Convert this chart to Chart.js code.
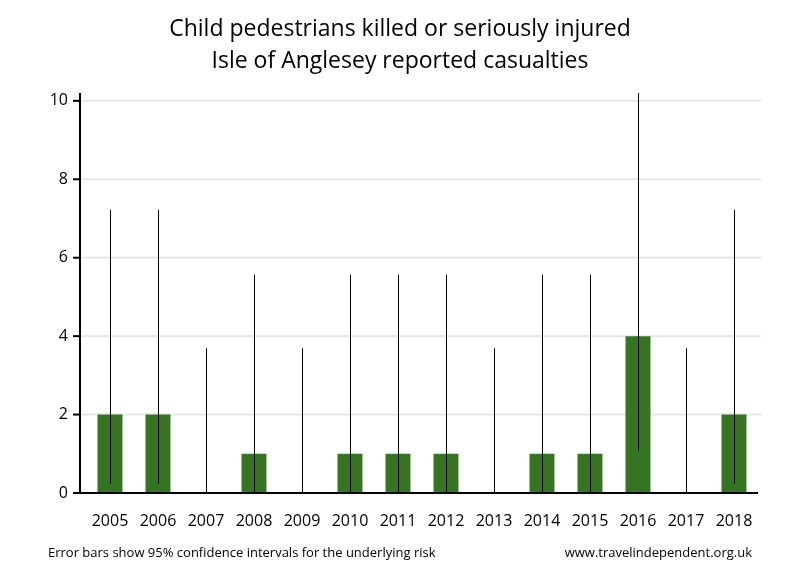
<!DOCTYPE html>
<html>
<head>
<meta charset="utf-8">
<script src="https://cdn.jsdelivr.net/npm/chart.js@4"></script>
<style>
  body { margin: 0; background: #fff; }
</style>
</head>
<body>
<canvas id="myChart" width="800" height="580"></canvas>
<script>
// casualties per year, with 95% confidence limits for the underlying risk
const years = ['2005', '2006', '2007', '2008', '2009', '2010', '2011', '2012', '2013', '2014', '2015', '2016', '2017', '2018'];
const casualties = [2, 2, 0, 1, 0, 1, 1, 1, 0, 1, 1, 4, 0, 2];
const lowerCI = [0.24, 0.24, 0, 0.03, 0, 0.03, 0.03, 0.03, 0, 0.03, 0.03, 1.09, 0, 0.24];
const upperCI = [7.22, 7.22, 3.69, 5.57, 3.69, 5.57, 5.57, 5.57, 3.69, 5.57, 5.57, 10.24, 3.69, 7.22];
const yTicks = [0, 2, 4, 6, 8, 10];

const titleLines = ['Child pedestrians killed or seriously injured', 'Isle of Anglesey reported casualties'];
const footLeft = 'Error bars show 95% confidence intervals for the underlying risk';
const footRight = 'www.travelindependent.org.uk';

// the value axis sits a little left of the first bar, so grid and axes are drawn here
const axes = {
    id: 'axes',
    beforeDatasetsDraw(chart) {
        const ctx = chart.ctx;
        const y = chart.scales.y;
        const area = chart.chartArea;
        const axisX = area.left - 6;
        ctx.save();
        ctx.strokeStyle = '#e6e6e6';
        ctx.lineWidth = 2;
        yTicks.forEach(v => {
            if (v === 0) return;
            const py = y.getPixelForValue(v);
            ctx.beginPath();
            ctx.moveTo(axisX, py);
            ctx.lineTo(area.right + 3, py);
            ctx.stroke();
        });
        ctx.restore();
    },
    afterDatasetsDraw(chart) {
        const ctx = chart.ctx;
        const x = chart.scales.x;
        const y = chart.scales.y;
        const area = chart.chartArea;
        const axisX = area.left - 6;
        ctx.save();
        // error bars
        ctx.strokeStyle = '#000';
        ctx.lineWidth = 1;
        for (let i = 0; i < years.length; i++) {
            const px = Math.round(x.getPixelForValue(i)) + 0.5;
            ctx.beginPath();
            ctx.moveTo(px, y.getPixelForValue(lowerCI[i]));
            ctx.lineTo(px, Math.max(area.top, y.getPixelForValue(upperCI[i])));
            ctx.stroke();
        }
        // axis lines and ticks
        ctx.lineWidth = 2;
        ctx.beginPath();
        ctx.moveTo(axisX, area.top);
        ctx.lineTo(axisX, area.bottom + 1);
        ctx.stroke();
        ctx.beginPath();
        ctx.moveTo(axisX - 7, area.bottom);
        ctx.lineTo(area.right, area.bottom);
        ctx.stroke();
        yTicks.forEach(v => {
            const py = y.getPixelForValue(v);
            ctx.beginPath();
            ctx.moveTo(axisX - 7, py);
            ctx.lineTo(axisX, py);
            ctx.stroke();
        });
        ctx.restore();
    },
    afterDraw(chart) {
        const ctx = chart.ctx;
        ctx.save();
        ctx.fillStyle = '#000';
        ctx.textAlign = 'center';
        ctx.textBaseline = 'middle';
        ctx.font = '23px "Open Sans"';
        ctx.fillText(titleLines[0], 400, 29);
        ctx.fillText(titleLines[1], 400, 61);
        ctx.font = '13px "Open Sans"';
        ctx.textAlign = 'left';
        ctx.fillText(footLeft, 48, 553, 391);
        ctx.textAlign = 'right';
        ctx.fillText(footRight, 752, 553, 196);
        ctx.restore();
    }
};

const myChart = new Chart(document.getElementById('myChart'), {
    type: 'bar',
    data: {
        labels: years,
        datasets: [{
            data: casualties,
            backgroundColor: '#367322',
            barPercentage: 0.52,
            categoryPercentage: 1
        }]
    },
    options: {
        responsive: false,
        animation: false,
        layout: { padding: { top: 93, bottom: 47, left: 0, right: 42 } },
        plugins: {
            legend: { display: false },
            title: { display: false },
            tooltip: { enabled: false }
        },
        scales: {
            x: {
                grid: { display: false },
                border: { display: false },
                ticks: { color: '#000', font: { family: 'Open Sans', size: 16 }, padding: 11, maxRotation: 0 },
                afterFit(scale) { scale.height = 40; }
            },
            y: {
                min: 0,
                max: 10.2,
                afterBuildTicks(axis) { axis.ticks = yTicks.map(v => ({ value: v })); },
                grid: { display: false },
                border: { display: false },
                ticks: { color: '#000', font: { family: 'Open Sans', size: 16 }, padding: 10 },
                afterFit(scale) { scale.width = 86; }
            }
        }
    },
    plugins: [axes]
});
</script>
</body>
</html>
